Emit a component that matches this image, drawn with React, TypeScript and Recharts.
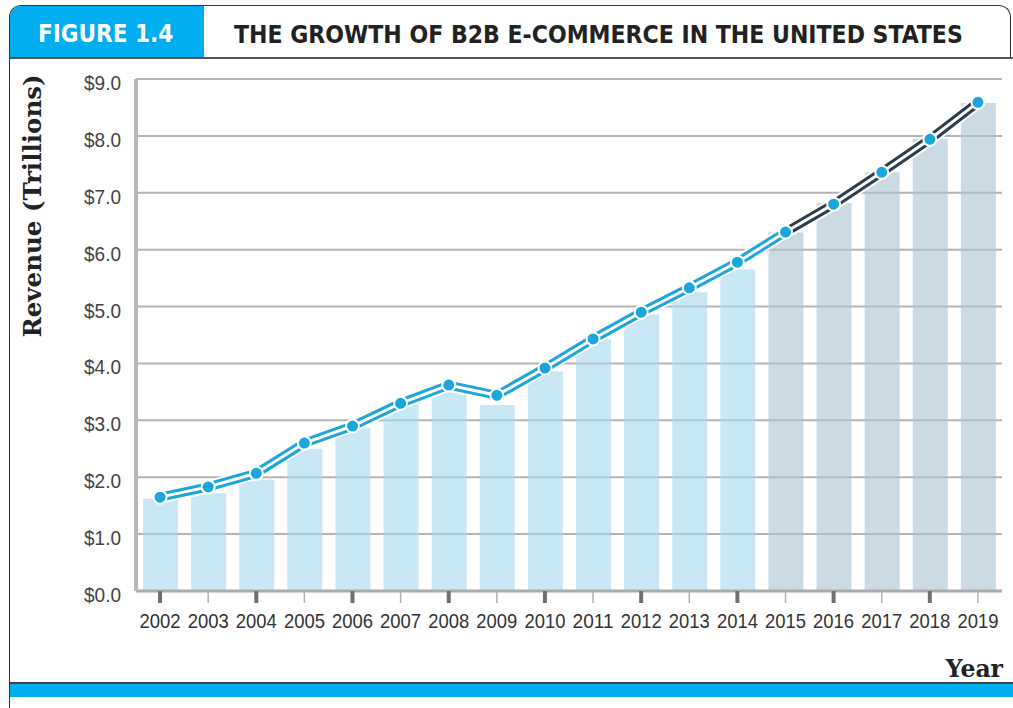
import React from 'react';
import { ComposedChart, Bar, Line, XAxis, YAxis, CartesianGrid, Cell } from 'recharts';

const years = ['2002', '2003', '2004', '2005', '2006', '2007', '2008', '2009', '2010', '2011', '2012', '2013', '2014', '2015', '2016', '2017', '2018', '2019'];
const lineRevenue = [1.65, 1.83, 2.07, 2.6, 2.9, 3.3, 3.62, 3.44, 3.92, 4.43, 4.9, 5.33, 5.78, 6.31, 6.8, 7.36, 7.94, 8.59];
const barRevenue = [1.62, 1.72, 1.95, 2.5, 2.86, 3.28, 3.5, 3.27, 3.86, 4.42, 4.86, 5.25, 5.65, 6.3, 6.82, 7.36, 7.95, 8.58];
const yTicks = [0, 1, 2, 3, 4, 5, 6, 7, 8, 9];
const firstForecastYear = '2015';

const BLUE = '#00aeef';
const LINE_BLUE = '#1ba6dc';
const LINE_DARK = '#2b3e4a';
const SANS = "'Liberation Sans', Arial, sans-serif";
const HEAD = "'DejaVu Sans Condensed', 'DejaVu Sans', sans-serif";
const SLAB = "'DejaVu Serif', serif";

const splitIdx = years.indexOf(firstForecastYear);

const data = years.map((year, i) => ({
  year,
  bar: barRevenue[i],
  value: lineRevenue[i],
  actual: i <= splitIdx ? lineRevenue[i] : null,
  forecast: i >= splitIdx ? lineRevenue[i] : null,
}));

// narrow-looking labels: squeeze Liberation Sans to the width used in the print
const XTick = (props: any) => {
  const { x, y, payload, index } = props;
  const major = index % 2 === 0;
  return (
    <g>
      <line x1={x} x2={x} y1={y} y2={y + 12} stroke={major ? '#707070' : '#b0b0b0'} strokeWidth={major ? 4 : 1.5} />
      <text x={x} y={y + 37} textAnchor="middle" fill="#333" fontSize={21} fontFamily={SANS}
        textLength={41} lengthAdjust="spacingAndGlyphs">
        {payload.value}
      </text>
    </g>
  );
};

const YTick = (props: any) => {
  const { x, y, payload } = props;
  return (
    <text x={x} y={y + 11} textAnchor="end" fill="#444" fontSize={21} fontFamily={SANS}
      textLength={37} lengthAdjust="spacingAndGlyphs">
      {`$${Number(payload.value).toFixed(1)}`}
    </text>
  );
};

const App: React.FC = () => {
  return (
    <div style={{ position: 'absolute', left: 0, top: 0, width: 1013, height: 708, background: '#fff', overflow: 'hidden' }}>
      {/* frame */}
      <div style={{ position: 'absolute', left: 9, top: 5, width: 1000, height: 53, border: '1.5px solid #333', borderBottom: 'none', borderRadius: '12px 12px 0 0' }} />
      <div style={{ position: 'absolute', left: 9, top: 40, width: 0, height: 668, borderLeft: '1.5px solid #333' }} />
      <div style={{ position: 'absolute', left: 10, top: 6, width: 194, height: 51, background: BLUE, borderTopLeftRadius: 11 }} />
      <div style={{ position: 'absolute', left: 10, top: 57, width: 1003, height: 2, background: '#555' }} />
      <div style={{ position: 'absolute', left: 38, top: 20, color: '#fff', fontFamily: HEAD, fontWeight: 700, fontSize: 24, whiteSpace: 'nowrap' }}>
        FIGURE 1.4
      </div>
      <div style={{ position: 'absolute', left: 234, top: 20, color: '#222', fontFamily: HEAD, fontWeight: 700, fontSize: 24.5, whiteSpace: 'nowrap' }}>
        THE GROWTH OF B2B E-COMMERCE IN THE UNITED STATES
      </div>

      <div style={{ position: 'absolute', left: 0, top: 0 }}>
        <ComposedChart width={1013} height={708} data={data} margin={{ top: 79, right: 11, bottom: 87, left: 0 }}>
          <CartesianGrid vertical={false} stroke="#b3b3b3" strokeWidth={2} />
          <XAxis
            dataKey="year"
            height={30}
            axisLine={{ stroke: '#aaaaaa', strokeWidth: 3 }}
            tickLine={false}
            tickSize={0}
            tickMargin={0}
            interval={0}
            tick={<XTick />}
          />
          <YAxis
            width={136}
            domain={[0, 9]}
            ticks={yTicks}
            axisLine={{ stroke: '#b8b8b8', strokeWidth: 4 }}
            tickLine={false}
            tickSize={0}
            tickMargin={15}
            tick={<YTick />}
          />
          <Bar dataKey="bar" barSize={35} isAnimationActive={false}>
            {data.map((d, i) => (
              <Cell key={d.year} fill={i < splitIdx ? 'rgb(163,217,242)' : 'rgb(168,195,210)'} fillOpacity={0.6} />
            ))}
          </Bar>
          <Line dataKey="value" stroke="#fff" strokeWidth={13} dot={false} activeDot={false} isAnimationActive={false} />
          <Line dataKey="actual" stroke={LINE_BLUE} strokeWidth={9} dot={false} activeDot={false} isAnimationActive={false} />
          <Line dataKey="forecast" stroke={LINE_DARK} strokeWidth={9} dot={false} activeDot={false} isAnimationActive={false} />
          <Line dataKey="value" stroke="#fff" strokeWidth={3} isAnimationActive={false} activeDot={false}
            dot={{ r: 6.5, fill: LINE_BLUE, stroke: '#fff', strokeWidth: 2 }} />
        </ComposedChart>
      </div>

      <div style={{ position: 'absolute', left: 32, top: 206, transform: 'translate(-50%, -50%) rotate(-90deg)', fontFamily: SLAB, fontWeight: 700, fontSize: 24.5, color: '#222', whiteSpace: 'nowrap' }}>
        Revenue (Trillions)
      </div>
      <div style={{ position: 'absolute', right: 10, top: 655, fontFamily: SLAB, fontWeight: 700, fontSize: 23.5, color: '#222' }}>
        Year
      </div>

      <div style={{ position: 'absolute', left: 10, top: 682, width: 1003, height: 2, background: '#444' }} />
      <div style={{ position: 'absolute', left: 10, top: 684, width: 1003, height: 13, background: BLUE }} />
    </div>
  );
};

export default App;
